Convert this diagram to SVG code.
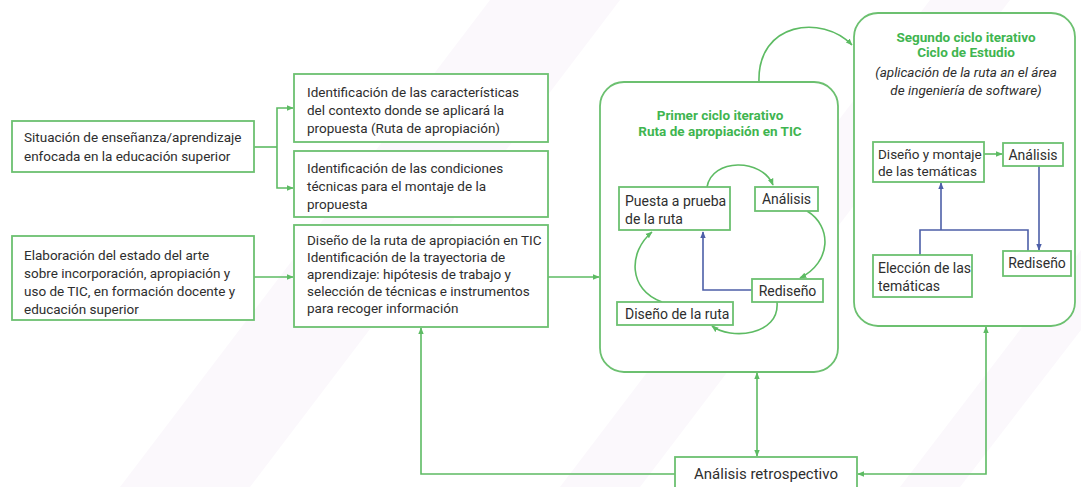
<svg xmlns="http://www.w3.org/2000/svg" width="1081" height="487" viewBox="0 0 1081 487">
<defs>
<style>
.box{fill:#ffffff;stroke:#6cc070;stroke-width:1.8}
.cyc{fill:#ffffff;stroke:#6cc070;stroke-width:1.8}
.t{font-family:Roboto,"Liberation Sans",sans-serif;font-size:13.5px;fill:#2e2e2e}
.t2{font-family:Roboto,"Liberation Sans",sans-serif;font-size:14px;fill:#2e2e2e}
.tt{font-family:Roboto,"Liberation Sans",sans-serif;font-size:13.5px;font-weight:bold;fill:#3fb550;text-anchor:middle}
.ti{font-family:Roboto,"Liberation Sans",sans-serif;font-size:13.5px;font-style:italic;fill:#2e2e2e;text-anchor:middle}
.c{fill:none;stroke:#5dbb63;stroke-width:1.6}
.b{fill:none;stroke:#4d5fa8;stroke-width:1.6}
.bg{fill:#fbf8fc}
</style>
<marker id="ag" viewBox="0 0 10 10" refX="9" refY="5" markerWidth="7" markerHeight="7" markerUnits="userSpaceOnUse" orient="auto-start-reverse"><path d="M0 1 L10 5 L0 9 z" fill="#5dbb63"/></marker>
<marker id="ab" viewBox="0 0 10 10" refX="9" refY="5" markerWidth="7" markerHeight="7" markerUnits="userSpaceOnUse" orient="auto-start-reverse"><path d="M0 1 L10 5 L0 9 z" fill="#4d5fa8"/></marker>
</defs>
<rect width="1081" height="487" fill="#ffffff"/>
<g id="background">
<polygon class="bg" points="120,487 250,487 620,0 490,0"/>
<polygon class="bg" points="560,487 640,487 1010,0 930,0"/>
<polygon class="bg" points="900,487 960,487 1081,330 1081,250"/>
</g>
<g id="connectors">
<path class="c" d="M254 147 H277"/>
<path class="c" d="M277 147 V108 H293" marker-end="url(#ag)"/>
<path class="c" d="M277 147 V188 H293" marker-end="url(#ag)"/>
<path class="c" d="M254 277 H293" marker-end="url(#ag)"/>
<path class="c" d="M548 277 H599" marker-end="url(#ag)"/>
<path class="c" d="M759 82 C 757 22, 822 14, 852 45" marker-end="url(#ag)"/>
<path class="c" d="M757 456 V373" marker-start="url(#ag)" marker-end="url(#ag)"/>
<path class="c" d="M675 474 H421 V328" marker-end="url(#ag)"/>
<path class="c" d="M858 474 H986 V327" marker-start="url(#ag)" marker-end="url(#ag)"/>
</g>
<g id="n-situacion">
<rect class="box" x="12" y="121" width="242" height="51"/>
<text class="t" x="24" y="142">Situación de enseñanza/aprendizaje</text>
<text class="t" x="24" y="161">enfocada en la educación superior</text>
</g>
<g id="n-elaboracion">
<rect class="box" x="12" y="236" width="242" height="84"/>
<text class="t" x="24" y="260">Elaboración del estado del arte</text>
<text class="t" x="24" y="278">sobre incorporación, apropiación y</text>
<text class="t" x="24" y="296">uso de TIC, en formación docente y</text>
<text class="t" x="24" y="314">educación superior</text>
</g>
<g id="n-caracteristicas">
<rect class="box" x="294" y="74" width="254" height="68"/>
<text class="t" x="307" y="97">Identificación de las características</text>
<text class="t" x="307" y="115">del contexto donde se aplicará la</text>
<text class="t" x="307" y="133">propuesta (Ruta de apropiación)</text>
</g>
<g id="n-condiciones">
<rect class="box" x="294" y="151" width="254" height="66"/>
<text class="t" x="307" y="173">Identificación de las condiciones</text>
<text class="t" x="307" y="191">técnicas para el montaje de la</text>
<text class="t" x="307" y="209">propuesta</text>
</g>
<g id="n-diseno-ruta-tic">
<rect class="box" x="294" y="225" width="254" height="102"/>
<text class="t" x="307" y="245">Diseño de la ruta de apropiación en TIC</text>
<text class="t" x="307" y="262">Identificación de la trayectoria de</text>
<text class="t" x="307" y="279">aprendizaje: hipótesis de trabajo y</text>
<text class="t" x="307" y="296">selección de técnicas e instrumentos</text>
<text class="t" x="307" y="313">para recoger información</text>
</g>
<g id="n-primer-ciclo">
<rect class="cyc" x="600" y="82" width="238" height="290" rx="24"/>
<text class="tt" x="720" y="120">Primer ciclo iterativo</text>
<text class="tt" x="720" y="136">Ruta de apropiación en TIC</text>
</g>
<g id="n-segundo-ciclo">
<rect class="cyc" x="854" y="13" width="221" height="313" rx="24"/>
<text class="tt" x="966" y="42">Segundo ciclo iterativo</text>
<text class="tt" x="966" y="57">Ciclo de Estudio</text>
<text class="ti" x="966" y="77">(aplicación de la ruta an el área</text>
<text class="ti" x="966" y="95">de ingeniería de software)</text>
</g>
<g id="c1-connectors">
<path class="c" d="M707 187 C 712 158, 762 158, 773 185" marker-end="url(#ag)"/>
<path class="c" d="M807 211 C 832 226, 832 262, 800 278" marker-end="url(#ag)"/>
<path class="c" d="M777 302 C 780 336, 730 340, 712 326" marker-end="url(#ag)"/>
<path class="c" d="M662 302 C 628 290, 628 252, 652 232" marker-end="url(#ag)"/>
<path class="b" d="M752 290 H703 V232" marker-end="url(#ab)"/>
</g>
<g id="n-puesta">
<rect class="box" x="619" y="187" width="111" height="43"/>
<text class="t2" x="625" y="206">Puesta a prueba</text>
<text class="t2" x="625" y="224">de la ruta</text>
</g>
<g id="n-analisis1">
<rect class="box" x="755" y="187" width="63" height="24"/>
<text class="t2" x="786.5" y="204" text-anchor="middle">Análisis</text>
</g>
<g id="n-rediseno1">
<rect class="box" x="752" y="279" width="71" height="23"/>
<text class="t2" x="787.5" y="296" text-anchor="middle">Rediseño</text>
</g>
<g id="n-diseno-ruta">
<rect class="box" x="617" y="302" width="116" height="23"/>
<text class="t2" x="625" y="319">Diseño de la ruta</text>
</g>
<g id="c2-connectors">
<path class="c" d="M984 154 H1002" marker-end="url(#ag)"/>
<path class="b" d="M1039 166 V250" marker-end="url(#ab)"/>
<path class="b" d="M920 255 V230 H1028 V251"/>
<path class="b" d="M941 230 V183" marker-end="url(#ab)"/>
</g>
<g id="n-diseno-montaje">
<rect class="box" x="873" y="142" width="111" height="40"/>
<text class="t2" x="878" y="159" style="font-size:13.5px">Diseño y montaje</text>
<text class="t2" x="878" y="176" style="font-size:13.5px">de las temáticas</text>
</g>
<g id="n-analisis2">
<rect class="box" x="1003" y="143" width="60" height="23"/>
<text class="t2" x="1033" y="160" text-anchor="middle">Análisis</text>
</g>
<g id="n-rediseno2">
<rect class="box" x="1003" y="251" width="68" height="25"/>
<text class="t2" x="1037" y="268" text-anchor="middle">Rediseño</text>
</g>
<g id="n-eleccion">
<rect class="box" x="873" y="255" width="99" height="42"/>
<text class="t2" x="878" y="273">Elección de las</text>
<text class="t2" x="878" y="291">temáticas</text>
</g>
<g id="n-retrospectivo">
<rect class="box" x="675" y="457" width="182" height="40"/>
<text class="t2" x="766" y="479" text-anchor="middle" style="font-size:15px">Análisis retrospectivo</text>
</g>
</svg>
